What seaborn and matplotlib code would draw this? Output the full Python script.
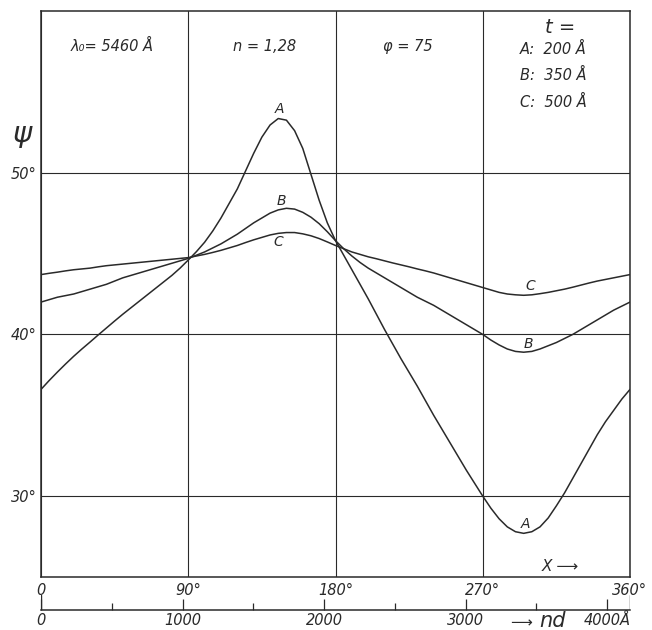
import numpy as np
import pandas as pd
import matplotlib
matplotlib.use("Agg")
import matplotlib.pyplot as plt
import seaborn as sns

# Phase angle X (degrees) at which psi was read
chi = list(range(0, 361, 5))

# psi (degrees) for film thicknesses A: 200 Å, B: 350 Å, C: 500 Å
psi_A = [36.6, 37.15, 37.67, 38.17, 38.65, 39.1, 39.53, 39.97, 40.4, 40.83,
         41.25, 41.65, 42.05, 42.45, 42.85, 43.25, 43.65, 44.1, 44.6, 45.12,
         45.7, 46.4, 47.2, 48.1, 49.0, 50.1, 51.2, 52.2, 52.95, 53.35,
         53.25, 52.6, 51.5, 49.9, 48.3, 46.9, 45.8, 44.9, 44.0, 43.1,
         42.2, 41.25, 40.3, 39.4, 38.5, 37.65, 36.8, 35.9, 35.0, 34.15,
         33.3, 32.45, 31.6, 30.8, 30.0, 29.25, 28.6, 28.1, 27.8, 27.7,
         27.8, 28.1, 28.65, 29.4, 30.2, 31.1, 32.0, 32.9, 33.8, 34.6,
         35.3, 36.0, 36.6]
psi_B = [42.0, 42.15, 42.3, 42.4, 42.5, 42.65, 42.8, 42.95, 43.1, 43.3,
         43.5, 43.65, 43.8, 43.95, 44.1, 44.25, 44.4, 44.55, 44.7, 44.9,
         45.1, 45.35, 45.6, 45.9, 46.2, 46.55, 46.9, 47.2, 47.5, 47.7,
         47.8, 47.75, 47.55, 47.25, 46.85, 46.35, 45.8, 45.3, 44.85, 44.45,
         44.1, 43.8, 43.5, 43.2, 42.9, 42.6, 42.3, 42.05, 41.8, 41.5,
         41.2, 40.9, 40.6, 40.3, 40.0, 39.65, 39.35, 39.1, 38.95, 38.9,
         38.95, 39.1, 39.3, 39.5, 39.75, 40.0, 40.3, 40.6, 40.9, 41.2,
         41.5, 41.75, 42.0]
psi_C = [43.7, 43.78, 43.85, 43.93, 44.0, 44.05, 44.1, 44.18, 44.25, 44.3,
         44.35, 44.4, 44.45, 44.5, 44.55, 44.6, 44.65, 44.7, 44.75, 44.85,
         44.95, 45.07, 45.2, 45.35, 45.5, 45.68, 45.85, 46.0, 46.15, 46.25,
         46.3, 46.3, 46.22, 46.1, 45.93, 45.72, 45.5, 45.3, 45.1, 44.95,
         44.8, 44.68, 44.55, 44.42, 44.3, 44.18, 44.05, 43.93, 43.8, 43.65,
         43.5, 43.35, 43.2, 43.05, 42.9, 42.75, 42.6, 42.5, 42.45, 42.42,
         42.45, 42.52, 42.6, 42.7, 42.8, 42.92, 43.05, 43.18, 43.3, 43.4,
         43.5, 43.6, 43.7]

chi_ticks = [0, 90, 180, 270, 360]
chi_labels = ["0", "90°", "180°", "270°", "360°"]
psi_ticks = [30, 40, 50]
psi_labels = ["30°", "40°", "50°"]

# Optical thickness scale: nd that corresponds to X = 360°
nd_full = 4161
nd_major = [0, 1000, 2000, 3000, 4000]
nd_major_labels = ["0", "1000", "2000", "3000", "4000Å"]
nd_minor = [500, 1500, 2500, 3500]

curve_names = ["A", "B", "C"]

df = pd.DataFrame({
    "chi": chi * 3,
    "psi": psi_A + psi_B + psi_C,
    "curve": [c for c in curve_names for _ in chi],
})

ink = "#2a2a2a"

sns.set_theme(style="white")
plt.rcParams["font.family"] = ["DejaVu Sans"]

W, H = 652, 630
fig = plt.figure(figsize=(W / 100, H / 100), dpi=100)
fig.patch.set_facecolor("white")

ax = fig.add_axes([41 / W, 1 - 577 / H, 589 / W, 566 / H])
sns.lineplot(data=df, x="chi", y="psi", hue="curve", palette=[ink] * 3,
             legend=False, ax=ax, linewidth=1.1)

ax.set_xlim(0, 360)
ax.set_ylim(25, 60)
ax.set_xticks(chi_ticks)
ax.set_xticklabels(chi_labels)
ax.set_yticks(psi_ticks)
ax.set_yticklabels(psi_labels)
ax.set_xlabel("")
ax.set_ylabel("")
ax.grid(True, color=ink, linewidth=0.8)
for sp in ax.spines.values():
    sp.set_color(ink)
    sp.set_linewidth(1.1)
ax.tick_params(axis="both", length=0, labelsize=10.5, labelcolor=ink)
ax.tick_params(axis="x", pad=4)
ax.tick_params(axis="y", pad=3)
for lbl in ax.get_xticklabels() + ax.get_yticklabels():
    lbl.set_fontstyle("italic")

txt = dict(color=ink, fontstyle="italic", ha="center", va="center")

# Header annotations
ax.text(43.4, 57.8, "λ₀= 5460 Å", fontsize=10.5, **txt)
ax.text(136.9, 57.8, "n = 1,28", fontsize=10.5, **txt)
ax.text(224.3, 57.8, "φ = 75", fontsize=10.5, **txt)
ax.text(317.2, 58.95, "t =", fontsize=14, **txt)
ax.text(312.9, 57.65, "A:  200 Å", fontsize=10.5, **txt)
ax.text(312.9, 56.04, "B:  350 Å", fontsize=10.5, **txt)
ax.text(312.9, 54.37, "C:  500 Å", fontsize=10.5, **txt)

# Curve labels
ax.text(145.5, 53.95, "A", fontsize=10, **txt)
ax.text(146.7, 48.25, "B", fontsize=10, **txt)
ax.text(144.9, 45.7, "C", fontsize=10, **txt)
ax.text(298.9, 42.98, "C", fontsize=10, **txt)
ax.text(297.7, 39.4, "B", fontsize=10, **txt)
ax.text(296.4, 28.3, "A", fontsize=10, **txt)

ax.text(317.2, 25.64, "X ⟶", fontsize=11, **txt)

# Axis symbol psi
fig.text(22 / W, 1 - 134 / H, "ψ", fontsize=21, color=ink,
         fontstyle="italic", ha="center", va="center")

# Second scale: optical thickness nd
ax2 = fig.add_axes([41 / W, 1 - 610 / H, 589 / W, 15 / H])
ax2.patch.set_alpha(0)
ax2.set_xlim(0, nd_full)
ax2.set_ylim(0, 1)
for side in ["top", "left", "right"]:
    ax2.spines[side].set_visible(False)
ax2.spines["bottom"].set_color(ink)
ax2.spines["bottom"].set_linewidth(1.1)
ax2.set_yticks([])
ax2.set_xticks(nd_major)
ax2.set_xticklabels(nd_major_labels)
ax2.set_xticks(nd_minor, minor=True)
ax2.tick_params(axis="x", which="both", bottom=True, top=False)
ax2.tick_params(axis="x", which="major", direction="in", length=8, width=0.9,
                color=ink, pad=2, labelsize=10.5, labelcolor=ink)
ax2.tick_params(axis="x", which="minor", direction="in", length=5, width=0.9,
                color=ink)
for lbl in ax2.get_xticklabels():
    lbl.set_fontstyle("italic")
ax2.axvline(0, color=ink, linewidth=1.0)
ax2.axvline(nd_full, color=ink, linewidth=1.0)

fig.text(521 / W, 1 - 623 / H, "⟶", fontsize=11, color=ink,
         ha="center", va="center")
fig.text(553 / W, 1 - 621 / H, "nd", fontsize=15, color=ink,
         fontstyle="italic", ha="center", va="center")

fig.savefig("out.png", dpi=100, facecolor="white")
